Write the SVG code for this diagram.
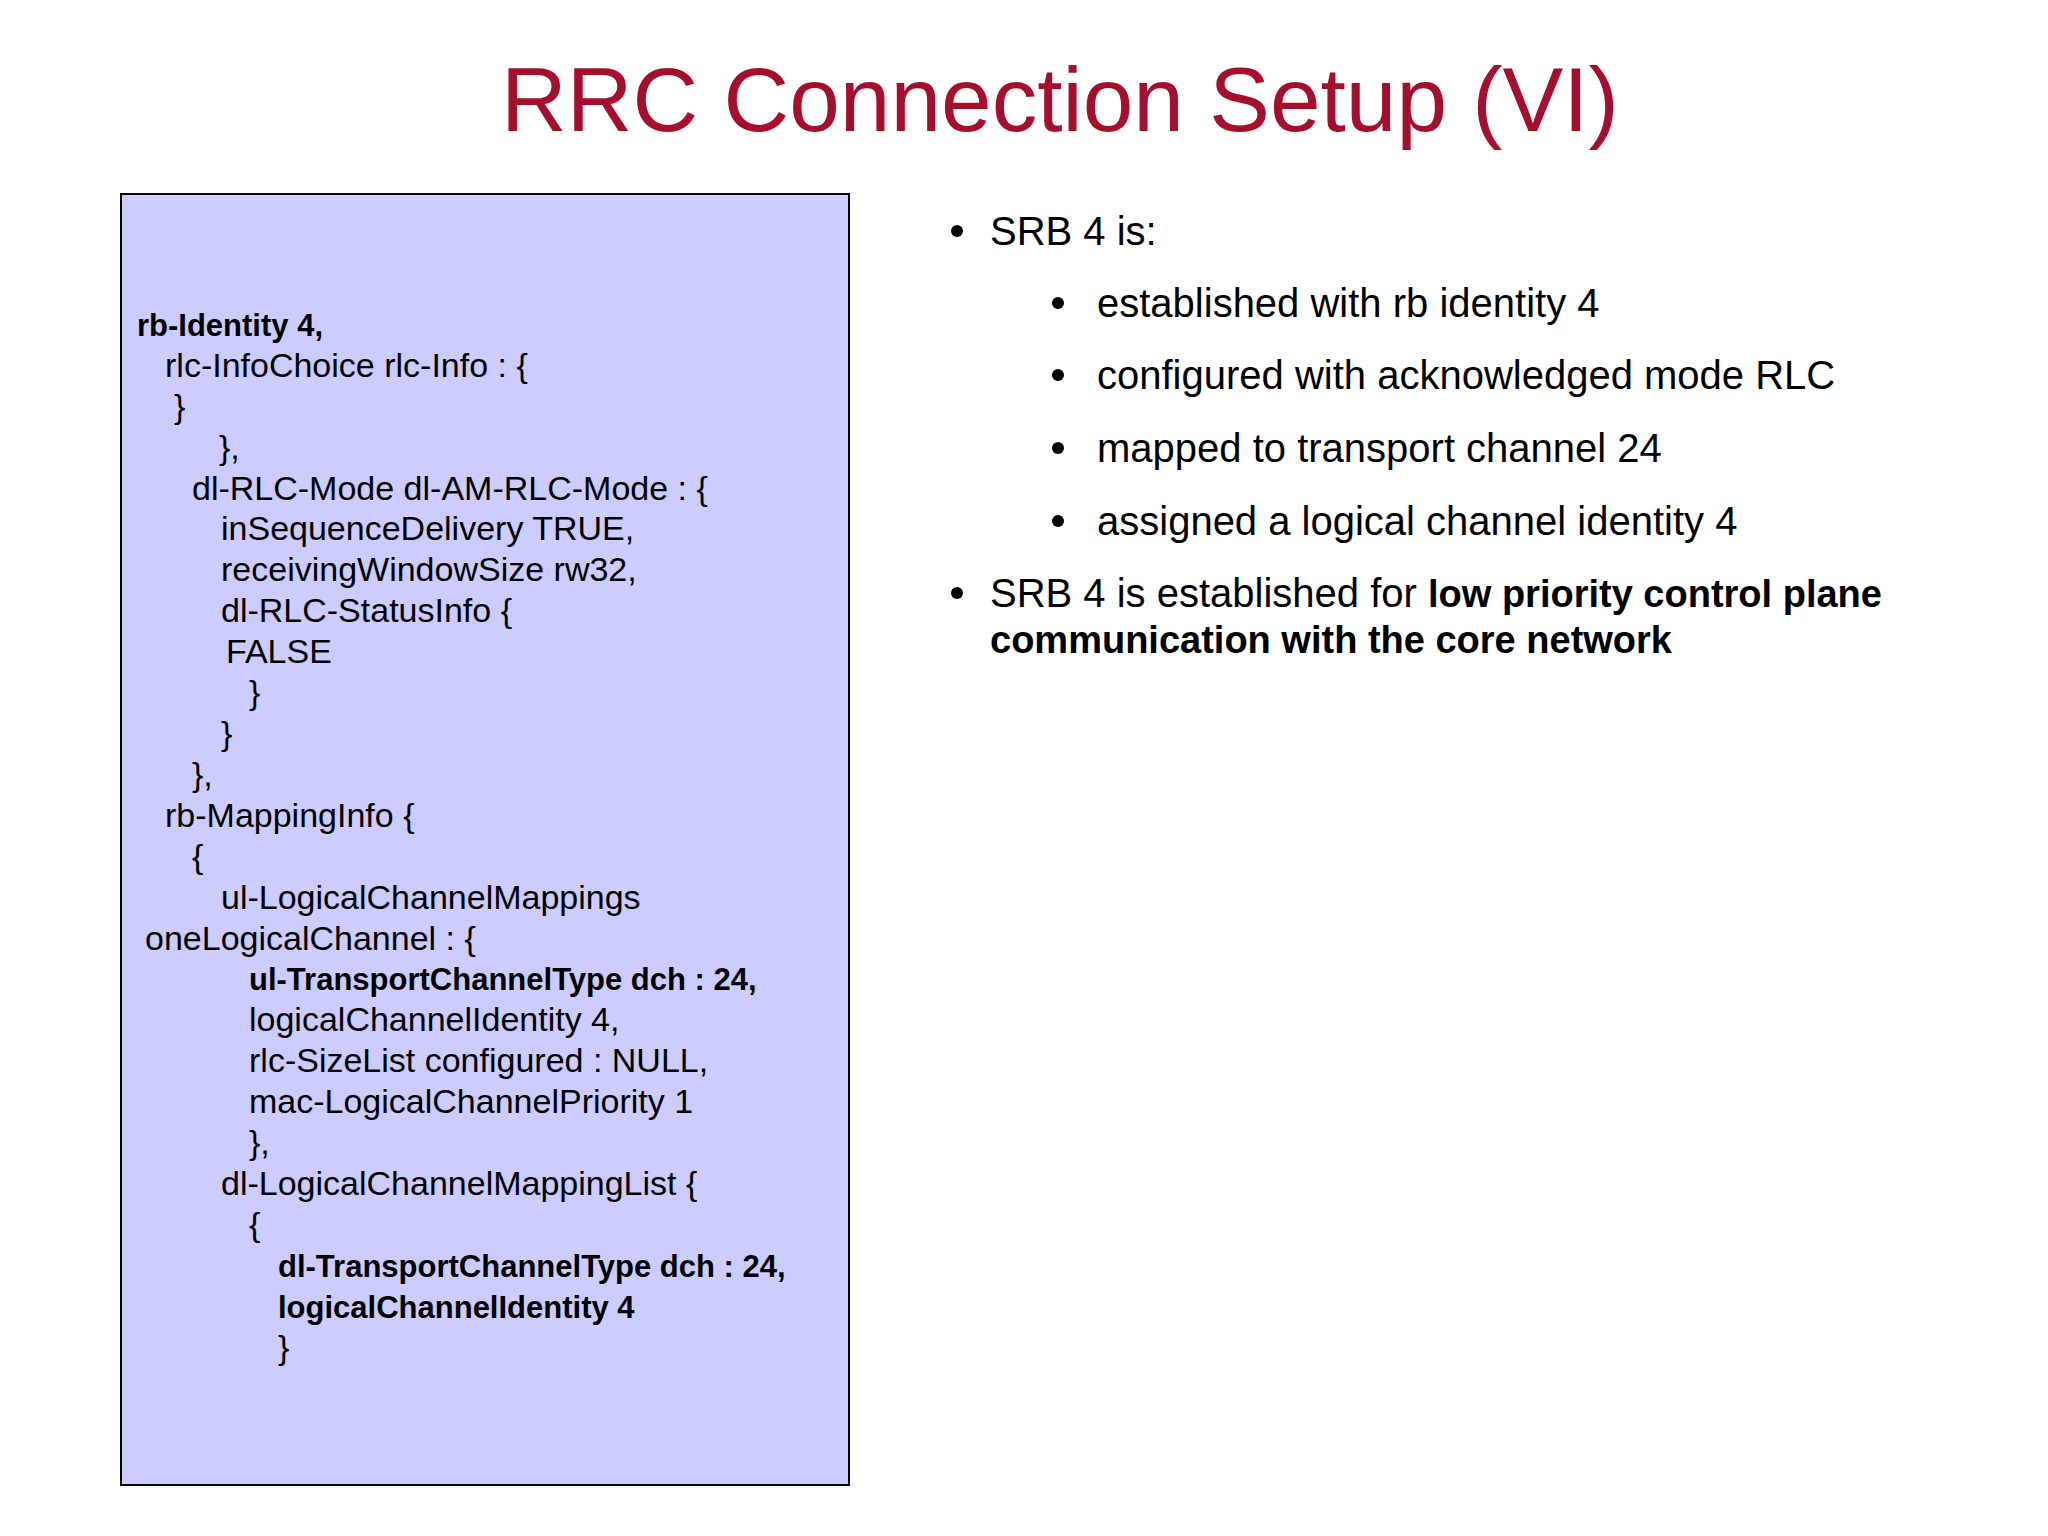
<svg xmlns="http://www.w3.org/2000/svg" width="2048" height="1536" viewBox="0 0 2048 1536">
<style>
.c{font-family:"Liberation Sans",Arial,sans-serif;font-size:34px;fill:#000}
.c.b{font-weight:bold;font-size:31px}
.r{font-family:"Liberation Sans",Arial,sans-serif;font-size:40px;fill:#000}
.b{font-weight:bold}
.r .b,.r.b{font-size:38px}
</style>
<rect width="2048" height="1536" fill="#fff"/>
<text x="1060" y="131" text-anchor="middle" font-family="Liberation Sans,Arial,sans-serif" font-size="91" fill="#a50f2d">RRC Connection Setup (VI)</text>
<g id="asn-box">
<rect x="121" y="194" width="728" height="1291" fill="#ccccff" stroke="#000" stroke-width="2"/>
<text class="c b" x="137" y="336">rb-Identity 4,</text>
<text class="c" x="165" y="377">rlc-InfoChoice rlc-Info : {</text>
<text class="c" x="174" y="418">}</text>
<text class="c" x="219" y="459">},</text>
<text class="c" x="192" y="500">dl-RLC-Mode dl-AM-RLC-Mode : {</text>
<text class="c" x="221" y="540">inSequenceDelivery TRUE,</text>
<text class="c" x="221" y="581">receivingWindowSize rw32,</text>
<text class="c" x="221" y="622">dl-RLC-StatusInfo {</text>
<text class="c" x="226" y="663">FALSE</text>
<text class="c" x="249" y="704">}</text>
<text class="c" x="221" y="745">}</text>
<text class="c" x="192" y="786">},</text>
<text class="c" x="165" y="827">rb-MappingInfo {</text>
<text class="c" x="192" y="868">{</text>
<text class="c" x="221" y="909">ul-LogicalChannelMappings</text>
<text class="c" x="145" y="950">oneLogicalChannel : {</text>
<text class="c b" x="249" y="990">ul-TransportChannelType dch : 24,</text>
<text class="c" x="249" y="1031">logicalChannelIdentity 4,</text>
<text class="c" x="249" y="1072">rlc-SizeList configured : NULL,</text>
<text class="c" x="249" y="1113">mac-LogicalChannelPriority 1</text>
<text class="c" x="249" y="1154">},</text>
<text class="c" x="221" y="1195">dl-LogicalChannelMappingList {</text>
<text class="c" x="249" y="1236">{</text>
<text class="c b" x="278" y="1277">dl-TransportChannelType dch : 24,</text>
<text class="c b" x="278" y="1318">logicalChannelIdentity 4</text>
<text class="c" x="278" y="1359">}</text>
</g>
<g id="bullets">
<circle cx="957" cy="231" r="6" fill="#000"/>
<text class="r" x="990" y="245">SRB 4 is:</text>
<circle cx="1058" cy="303" r="6" fill="#000"/>
<text class="r" x="1097" y="317">established with rb identity 4</text>
<circle cx="1058" cy="375" r="6" fill="#000"/>
<text class="r" x="1097" y="389">configured with acknowledged mode RLC</text>
<circle cx="1058" cy="448" r="6" fill="#000"/>
<text class="r" x="1097" y="462">mapped to transport channel 24</text>
<circle cx="1058" cy="521" r="6" fill="#000"/>
<text class="r" x="1097" y="535">assigned a logical channel identity 4</text>
<circle cx="957" cy="593" r="6" fill="#000"/>
<text class="r" x="990" y="607">SRB 4 is established for <tspan class="b">low priority control plane</tspan></text>
<text class="r b" x="990" y="653">communication with the core network</text>
</g>
</svg>
